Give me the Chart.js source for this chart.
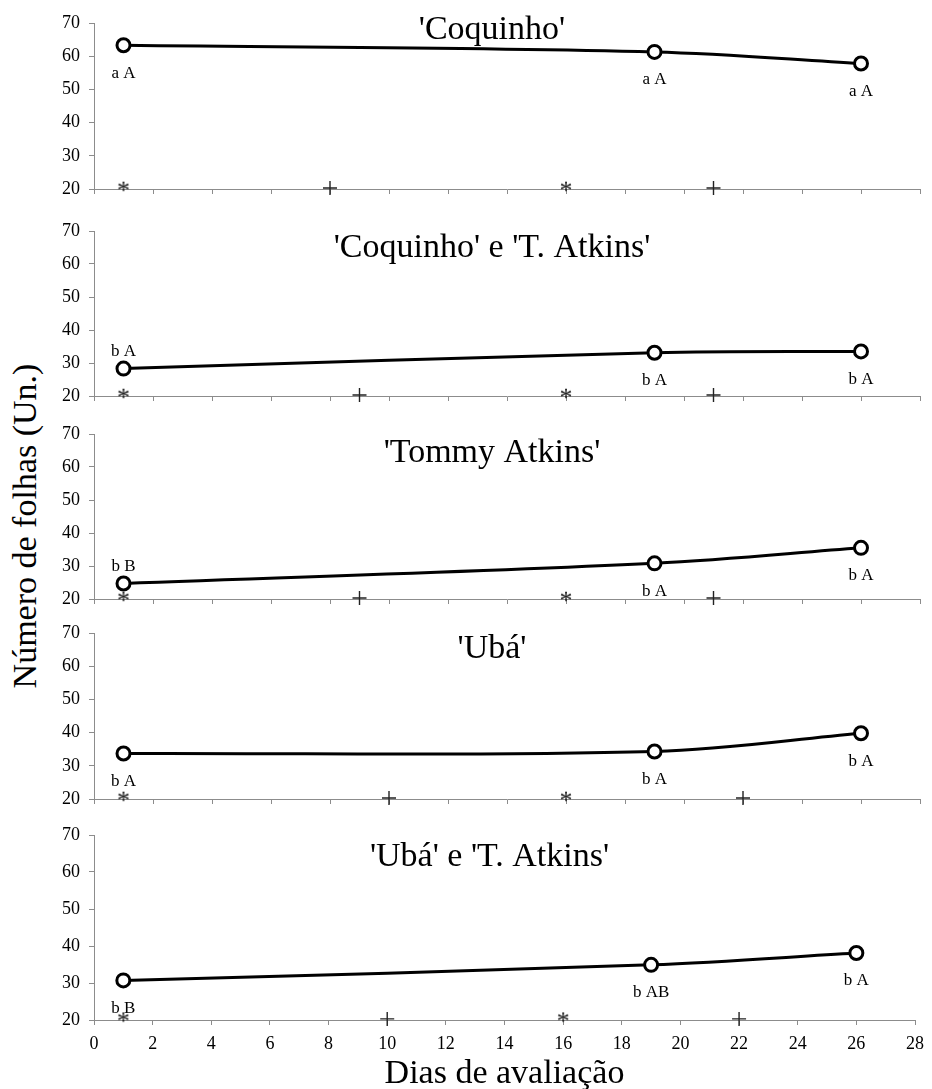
<!DOCTYPE html>
<html lang="pt">
<head>
<meta charset="utf-8">
<title>Número de folhas</title>
<script src="https://cdn.jsdelivr.net/npm/chart.js@4.4.1/dist/chart.umd.min.js"></script>
<style>
  body { margin: 0; background: #fff; }
  #wrap { position: relative; width: 932px; height: 1089px; overflow: hidden; font-family: "Liberation Serif", "Times New Roman", serif; }
  #wrap canvas { position: absolute; left: 0; }
  #yTitle { position: absolute; left: 25px; top: 526px; transform: translate(-50%, -50%) rotate(-90deg); white-space: nowrap; font-size: 34px; color: #000; }
</style>
</head>
<body>
<div id="wrap">
  <div id="yTitle">Número de folhas (Un.)</div>
</div>
<script>
// dias de avaliação com médias
const days = [1, 19, 26];

// número de folhas por combinação
const coquinho = [63.3, 61.3, 57.8];
const coquinhoAtkins = [28.3, 33.1, 33.5];
const tommyAtkins = [24.7, 30.8, 35.5];
const uba = [33.7, 34.3, 39.8];
const ubaAtkins = [30.7, 34.9, 38.1];

// letras do teste de médias
const coquinhoLetters = ['a A', 'a A', 'a A'];
const coquinhoAtkinsLetters = ['b A', 'b A', 'b A'];
const tommyAtkinsLetters = ['b B', 'b A', 'b A'];
const ubaLetters = ['b A', 'b A', 'b A'];
const ubaAtkinsLetters = ['b B', 'b AB', 'b A'];

// marcas sobre o eixo (* e +)
const asteriskDays = [1, 16];
const plusCoquinho = [8, 21];
const plusCoquinhoAtkins = [9, 21];
const plusTommyAtkins = [9, 21];
const plusUba = [10, 22];
const plusUbaAtkins = [10, 22];
const asteriskLevel = 20.7;
const plusLevel = 20.3;

const xTicks = { min: 0, max: 28, step: 2 };
const yTicks = { min: 20, max: 70, step: 10 };

const panels = [
  { title: "'Coquinho'", values: coquinho, letters: coquinhoLetters, above: [false, false, false], plus: plusCoquinho },
  { title: "'Coquinho' e 'T. Atkins'", values: coquinhoAtkins, letters: coquinhoAtkinsLetters, above: [true, false, false], plus: plusCoquinhoAtkins },
  { title: "'Tommy Atkins'", values: tommyAtkins, letters: tommyAtkinsLetters, above: [true, false, false], plus: plusTommyAtkins },
  { title: "'Ubá'", values: uba, letters: ubaLetters, above: [false, false, false], plus: plusUba },
  { title: "'Ubá' e 'T. Atkins'", values: ubaAtkins, letters: ubaAtkinsLetters, above: [false, false, false], plus: plusUbaAtkins }
];

// layout (pixels)
const plotTops = [23, 231, 434, 633, 835];
const plotBottoms = [189, 396, 599, 799, 1020];
const titleBaselines = [39, 257, 462, 658, 866];

const FONT = '"Liberation Serif", "Times New Roman", serif';
const AXIS_GREY = '#8c8c8c';

// asterisco como imagem de ponto
const asteriskImg = document.createElement('canvas');
asteriskImg.width = 20;
asteriskImg.height = 20;
(function () {
  const c = asteriskImg.getContext('2d');
  c.fillStyle = '#111';
  c.font = '26px ' + FONT;
  c.textAlign = 'center';
  c.textBaseline = 'alphabetic';
  const m = c.measureText('*');
  const asc = m.actualBoundingBoxAscent || 17;
  const desc = m.actualBoundingBoxDescent || -7;
  c.fillText('*', 10, 10 + (asc - desc) / 2);
})();

const annotate = {
  id: 'annotate',
  afterDraw(chart, args, opts) {
    const ctx = chart.ctx;
    const meta = chart.getDatasetMeta(0);
    ctx.save();
    ctx.fillStyle = '#000';
    ctx.textAlign = 'center';
    ctx.textBaseline = 'middle';
    ctx.font = '17px ' + FONT;
    meta.data.forEach((pt, k) => {
      const dy = opts.above[k] ? -17 : 28;
      ctx.fillText(opts.letters[k], pt.x, pt.y + dy);
    });
    ctx.font = '34px ' + FONT;
    ctx.textBaseline = 'alphabetic';
    const cx = (chart.chartArea.left + chart.chartArea.right) / 2 - 15;
    ctx.fillText(opts.title, cx, chart.chartArea.top + opts.titleOffset);
    ctx.restore();
  }
};

const wrap = document.getElementById('wrap');

panels.forEach((p, i) => {
  const last = i === panels.length - 1;
  const padTop = 20;
  const axisH = last ? 1089 - plotBottoms[i] : 20;
  const canvas = document.createElement('canvas');
  canvas.width = 932;
  canvas.height = plotBottoms[i] - plotTops[i] + padTop + axisH;
  canvas.style.top = (plotTops[i] - padTop) + 'px';
  wrap.appendChild(canvas);

  new Chart(canvas, {
    type: 'line',
    data: {
      datasets: [
        {
          data: days.map((d, k) => ({ x: d, y: p.values[k] })),
          borderColor: '#000',
          borderWidth: 3,
          tension: 0.35,
          fill: false,
          clip: false,
          pointRadius: 6.5,
          pointBorderWidth: 3,
          pointBackgroundColor: '#fff',
          pointBorderColor: '#000'
        },
        {
          data: asteriskDays.map(d => ({ x: d, y: asteriskLevel })),
          showLine: false,
          clip: false,
          pointStyle: asteriskImg,
          pointRadius: 5
        },
        {
          data: p.plus.map(d => ({ x: d, y: plusLevel })),
          showLine: false,
          clip: false,
          pointStyle: 'cross',
          pointRadius: 7,
          pointBorderWidth: 1.4,
          pointBorderColor: '#222'
        }
      ]
    },
    options: {
      responsive: false,
      animation: false,
      events: [],
      layout: { padding: { top: padTop, right: 12, left: 0, bottom: 0 } },
      plugins: {
        legend: { display: false },
        tooltip: { enabled: false },
        annotate: {
          title: p.title,
          titleOffset: titleBaselines[i] - plotTops[i],
          letters: p.letters,
          above: p.above
        }
      },
      scales: {
        x: {
          type: 'linear',
          min: xTicks.min,
          max: xTicks.max,
          ticks: { stepSize: xTicks.step, display: last, color: '#000', font: { family: FONT, size: 18 }, padding: 8, maxRotation: 0 },
          grid: { drawOnChartArea: false, drawTicks: true, tickLength: 5, color: AXIS_GREY },
          border: { color: AXIS_GREY },
          title: { display: last, text: 'Dias de avaliação', color: '#000', font: { family: FONT, size: 34, lineHeight: 0.9 }, padding: 0 },
          afterFit: s => { s.height = axisH; }
        },
        y: {
          min: yTicks.min,
          max: yTicks.max,
          ticks: { stepSize: yTicks.step, color: '#000', font: { family: FONT, size: 18, lineHeight: 1 }, padding: 9 },
          grid: { drawOnChartArea: false, drawTicks: true, tickLength: 5, color: AXIS_GREY },
          border: { color: AXIS_GREY },
          afterFit: s => { s.width = 94; }
        }
      }
    },
    plugins: [annotate]
  });
});
</script>
</body>
</html>
